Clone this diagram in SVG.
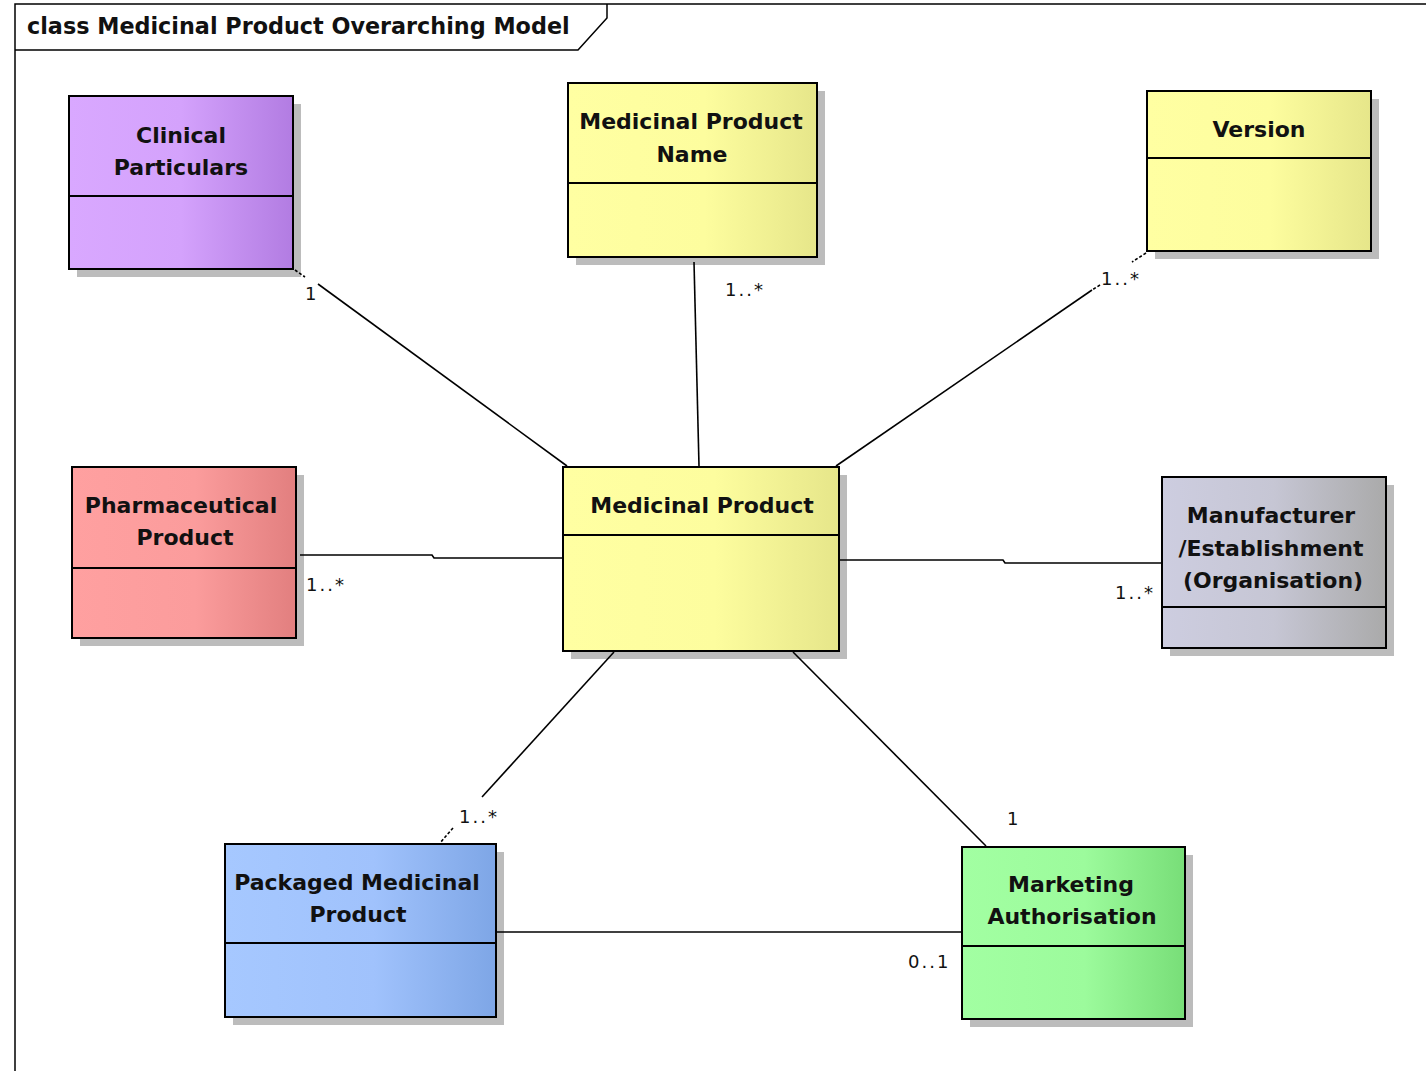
<svg xmlns="http://www.w3.org/2000/svg" width="1426" height="1071" viewBox="0 0 1426 1071">
<defs>
<linearGradient id="gPurple" x1="0" y1="0" x2="1" y2="0"><stop offset="0" stop-color="#d9a8ff"/><stop offset="0.5" stop-color="#d4a2fc"/><stop offset="1" stop-color="#b27ce2"/></linearGradient>
<linearGradient id="gYellow" x1="0" y1="0" x2="1" y2="0"><stop offset="0" stop-color="#ffffa2"/><stop offset="0.55" stop-color="#fdfd9e"/><stop offset="1" stop-color="#e6e68a"/></linearGradient>
<linearGradient id="gRed" x1="0" y1="0" x2="1" y2="0"><stop offset="0" stop-color="#ffa0a0"/><stop offset="0.55" stop-color="#fb9c9c"/><stop offset="1" stop-color="#e27f7f"/></linearGradient>
<linearGradient id="gGray" x1="0" y1="0" x2="1" y2="0"><stop offset="0" stop-color="#cdcde0"/><stop offset="0.5" stop-color="#c6c6d4"/><stop offset="1" stop-color="#aaaaaa"/></linearGradient>
<linearGradient id="gBlue" x1="0" y1="0" x2="1" y2="0"><stop offset="0" stop-color="#a6c8ff"/><stop offset="0.55" stop-color="#a0c2fc"/><stop offset="1" stop-color="#7ea6e6"/></linearGradient>
<linearGradient id="gGreen" x1="0" y1="0" x2="1" y2="0"><stop offset="0" stop-color="#a2ffa2"/><stop offset="0.55" stop-color="#9cfb9c"/><stop offset="1" stop-color="#78de78"/></linearGradient>
</defs>
<style>
.shadow{fill:#bcbcbc}
.box{stroke:#000;stroke-width:2}
.div{stroke:#000;stroke-width:2}
.name{font-family:"DejaVu Sans",Verdana,sans-serif;font-weight:bold;font-size:22px;fill:#111;text-anchor:middle}
.title{font-family:"DejaVu Sans",Verdana,sans-serif;font-weight:bold;font-size:22.3px;fill:#111}
.mult{font-family:"DejaVu Sans",Verdana,sans-serif;font-size:18px;fill:#111;letter-spacing:2px}
.frame{fill:none;stroke:#000;stroke-width:1.5}
.conn line,.conn polyline{stroke:#000;stroke-width:1.6;fill:none}
.conn .dash{stroke-dasharray:3 2}
</style>
<rect x="0" y="0" width="1426" height="1071" fill="#fff"/>
<g id="frame">
<polyline class="frame" points="15,1071 15,4 1426,4"/>
<polyline class="frame" points="15,50 578,50 607,18 607,4"/>
<text class="title" x="27" y="34">class Medicinal Product Overarching Model</text>
</g>
<g id="clinical-particulars">
<rect class="shadow" x="77" y="104" width="224" height="173"/>
<rect class="box" x="69" y="96" width="224" height="173" fill="url(#gPurple)"/>
<line class="div" x1="69" y1="196" x2="293" y2="196"/>
<text class="name" x="181" y="143">Clinical</text>
<text class="name" x="181" y="175">Particulars</text>
</g>
<g id="medicinal-product-name">
<rect class="shadow" x="576" y="91" width="249" height="174"/>
<rect class="box" x="568" y="83" width="249" height="174" fill="url(#gYellow)"/>
<line class="div" x1="568" y1="183" x2="817" y2="183"/>
<text class="name" x="691" y="129">Medicinal Product</text>
<text class="name" x="692" y="162">Name</text>
</g>
<g id="version">
<rect class="shadow" x="1155" y="99" width="224" height="160"/>
<rect class="box" x="1147" y="91" width="224" height="160" fill="url(#gYellow)"/>
<line class="div" x1="1147" y1="158" x2="1371" y2="158"/>
<text class="name" x="1259" y="137">Version</text>
</g>
<g id="pharmaceutical-product">
<rect class="shadow" x="80" y="475" width="224" height="171"/>
<rect class="box" x="72" y="467" width="224" height="171" fill="url(#gRed)"/>
<line class="div" x1="72" y1="568" x2="296" y2="568"/>
<text class="name" x="181" y="513">Pharmaceutical</text>
<text class="name" x="185" y="545">Product</text>
</g>
<g id="medicinal-product">
<rect class="shadow" x="571" y="475" width="276" height="184"/>
<rect class="box" x="563" y="467" width="276" height="184" fill="url(#gYellow)"/>
<line class="div" x1="563" y1="535" x2="839" y2="535"/>
<text class="name" x="702" y="513">Medicinal Product</text>
</g>
<g id="manufacturer">
<rect class="shadow" x="1170" y="485" width="224" height="171"/>
<rect class="box" x="1162" y="477" width="224" height="171" fill="url(#gGray)"/>
<line class="div" x1="1162" y1="607" x2="1386" y2="607"/>
<text class="name" x="1271" y="523">Manufacturer</text>
<text class="name" x="1271" y="556">/Establishment</text>
<text class="name" x="1273" y="588">(Organisation)</text>
</g>
<g id="packaged-medicinal-product">
<rect class="shadow" x="233" y="852" width="271" height="173"/>
<rect class="box" x="225" y="844" width="271" height="173" fill="url(#gBlue)"/>
<line class="div" x1="225" y1="943" x2="496" y2="943"/>
<text class="name" x="357" y="890">Packaged Medicinal</text>
<text class="name" x="358" y="922">Product</text>
</g>
<g id="marketing-authorisation">
<rect class="shadow" x="970" y="855" width="223" height="172"/>
<rect class="box" x="962" y="847" width="223" height="172" fill="url(#gGreen)"/>
<line class="div" x1="962" y1="946" x2="1185" y2="946"/>
<text class="name" x="1071" y="892">Marketing</text>
<text class="name" x="1072" y="924">Authorisation</text>
</g>
<g id="connectors" class="conn">
<line class="dash" x1="295" y1="270" x2="305" y2="277"/>
<line x1="318" y1="284" x2="567" y2="466"/>
<line x1="694" y1="262" x2="699" y2="466"/>
<line class="dash" x1="1146" y1="253" x2="1132" y2="262"/>
<line class="dash" x1="1100" y1="285" x2="1092" y2="290"/>
<line x1="1092" y1="290" x2="836" y2="466"/>
<polyline points="300,555 432,555 434,558 563,558"/>
<polyline points="840,560 1003,560 1005,563 1162,563"/>
<line x1="614" y1="652" x2="482" y2="797"/>
<line class="dash" x1="453" y1="828" x2="440" y2="843"/>
<line x1="793" y1="652" x2="986" y2="846"/>
<line x1="497" y1="932" x2="962" y2="932"/>
<text class="mult" x="305" y="300">1</text>
<text class="mult" x="725" y="296">1..*</text>
<text class="mult" x="1101" y="285">1..*</text>
<text class="mult" x="306" y="591">1..*</text>
<text class="mult" x="1115" y="599">1..*</text>
<text class="mult" x="459" y="823">1..*</text>
<text class="mult" x="1007" y="825">1</text>
<text class="mult" x="908" y="968">0..1</text>
</g>
</svg>
